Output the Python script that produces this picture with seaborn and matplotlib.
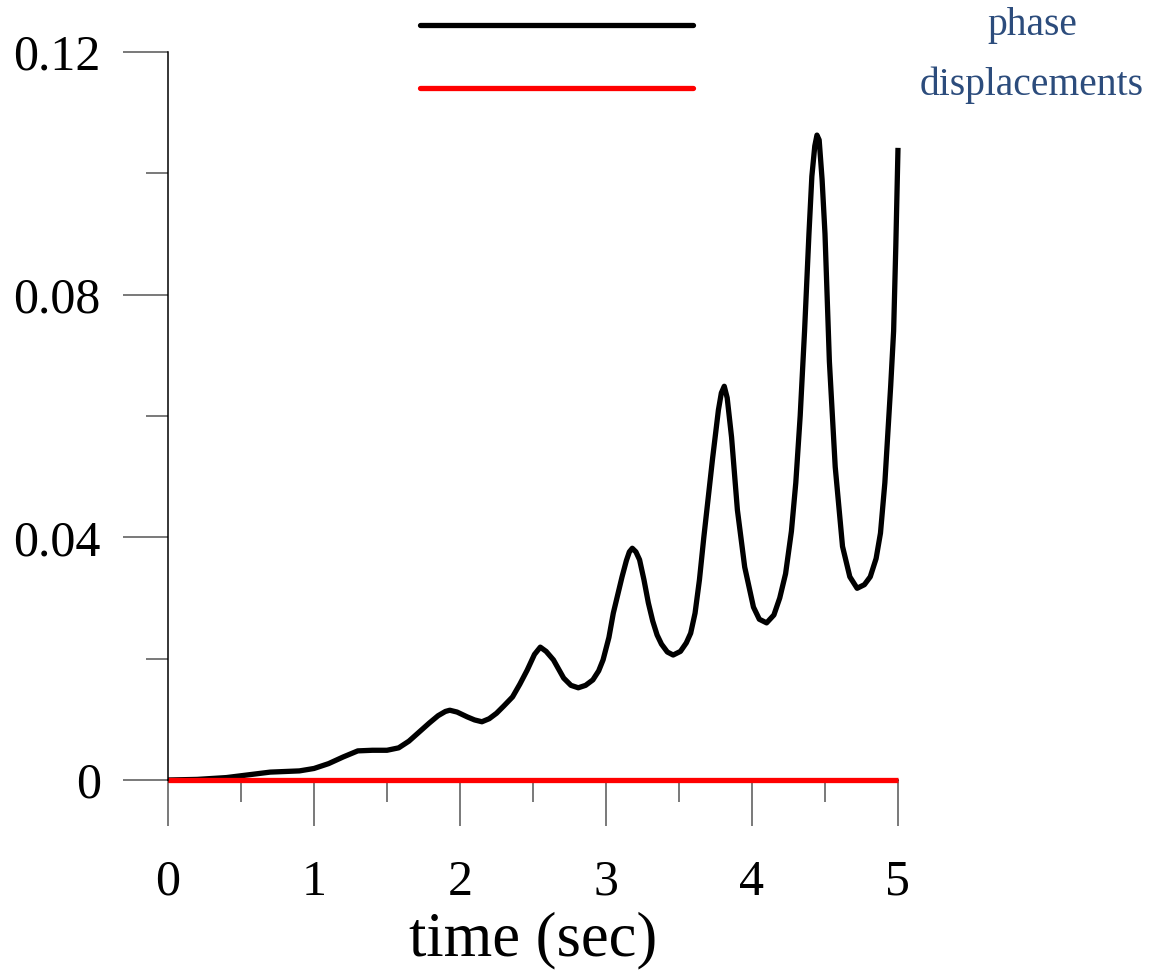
import numpy as np
import pandas as pd
import matplotlib
matplotlib.use("Agg")
import matplotlib.pyplot as plt
from matplotlib.lines import Line2D
from matplotlib.ticker import MultipleLocator
import seaborn as sns

# ---- data ----
time_s = [0.00, 0.20, 0.40, 0.50, 0.60, 0.70, 0.80, 0.90, 1.00, 1.10, 1.20, 1.30,
          1.40, 1.50, 1.58, 1.65, 1.72, 1.79, 1.85, 1.90, 1.93, 1.98, 2.05, 2.10, 2.15,
          2.20, 2.25, 2.30, 2.36, 2.41, 2.46, 2.51, 2.55, 2.59, 2.64, 2.71, 2.76,
          2.81, 2.86, 2.91, 2.95, 2.98, 3.02, 3.05, 3.08, 3.11, 3.14, 3.16, 3.18,
          3.205, 3.23, 3.26, 3.29, 3.32, 3.35, 3.38, 3.42, 3.46, 3.51, 3.55, 3.58,
          3.61, 3.64, 3.67, 3.70, 3.73, 3.77, 3.79, 3.81, 3.83, 3.86, 3.90, 3.95, 4.01,
          4.05, 4.10, 4.15, 4.19, 4.23, 4.27, 4.30, 4.33, 4.36, 4.39, 4.41, 4.43,
          4.445, 4.46, 4.48, 4.50, 4.53, 4.57, 4.62, 4.67, 4.72, 4.77, 4.81, 4.85,
          4.88, 4.91, 4.93, 4.95, 4.97, 4.985, 5.00]
phase = [0.0000, 0.0001, 0.0004, 0.0007, 0.0010, 0.0013, 0.0014, 0.0015, 0.0019, 0.0027, 0.0038, 0.0048,
         0.0049, 0.0049, 0.0053, 0.0064, 0.0079, 0.0094, 0.0106, 0.0113, 0.0115, 0.0112, 0.0104, 0.0099, 0.0096,
         0.0101, 0.0110, 0.0122, 0.0137, 0.0158, 0.0181, 0.0207, 0.0219, 0.0212, 0.0198, 0.0168, 0.0156,
         0.0152, 0.0156, 0.0165, 0.0180, 0.0198, 0.0235, 0.0275, 0.0305, 0.0335, 0.0362, 0.0376, 0.0382,
         0.0376, 0.0363, 0.0330, 0.0292, 0.0262, 0.0239, 0.0224, 0.0211, 0.0206, 0.0212, 0.0226, 0.0242,
         0.0275, 0.0330, 0.0400, 0.0465, 0.0530, 0.0610, 0.0638, 0.0649, 0.0630, 0.0565, 0.0445, 0.0351, 0.0285,
         0.0265, 0.0259, 0.0272, 0.0300, 0.0340, 0.0410, 0.0490, 0.0600, 0.0740, 0.0900, 0.0995, 0.1045,
         0.1063, 0.1055, 0.0990, 0.0900, 0.0690, 0.0516, 0.0385, 0.0335, 0.0316, 0.0322, 0.0335, 0.0365,
         0.0407, 0.0490, 0.0570, 0.0650, 0.0740, 0.0880, 0.1042]
disp_time = [0.0, 5.0]
displacements = [0.0, 0.0]

x_ticks = [0, 1, 2, 3, 4, 5]
y_ticks = [0, 0.04, 0.08, 0.12]
y_tick_labels = ["0", "0.04", "0.08", "0.12"]
legend_labels = ["phase", "displacements"]
x_label = "time (sec)"

# ---- figure ----
sns.set_style("ticks")
plt.rcParams["font.family"] = ["Liberation Serif", "DejaVu Serif"]

fig = plt.figure(figsize=(11.53, 9.71), dpi=100)
ax = fig.add_axes([168 / 1153, (971 - 780) / 971, (898 - 168) / 1153, (780 - 52) / 971])

df_phase = pd.DataFrame({"t": time_s, "v": phase})
df_disp = pd.DataFrame({"t": disp_time, "v": displacements})
sns.lineplot(data=df_phase, x="t", y="v", color="black", linewidth=3.8, ax=ax, zorder=2,
             solid_joinstyle="round", solid_capstyle="butt")
sns.lineplot(data=df_disp, x="t", y="v", color="#ff0000", linewidth=3.8, ax=ax, zorder=3,
             solid_capstyle="butt")
for ln in ax.lines:
    ln.set_clip_on(False)

ax.set_xlim(0, 5)
ax.set_ylim(0, 0.12)
ax.set_xticks(x_ticks)
ax.set_xticklabels([str(v) for v in x_ticks])
ax.set_yticks(y_ticks)
ax.set_yticklabels(y_tick_labels)
ax.xaxis.set_minor_locator(MultipleLocator(0.5))
ax.yaxis.set_minor_locator(MultipleLocator(0.02))

for s in ["top", "right"]:
    ax.spines[s].set_visible(False)
for s in ["left", "bottom"]:
    ax.spines[s].set_color("black")
    ax.spines[s].set_linewidth(1.1)
ax.spines["left"].set_zorder(5)

ax.tick_params(axis="y", which="major", direction="out", length=32.5, width=1.1,
               color="#555555", labelsize=36, pad=16, labelcolor="black")
ax.tick_params(axis="y", which="minor", direction="out", length=16, width=1.1, color="#555555")
ax.tick_params(axis="x", which="major", direction="out", length=33, width=1.1,
               color="#555555", labelsize=36, pad=24, labelcolor="black")
ax.tick_params(axis="x", which="minor", direction="out", length=16, width=1.1, color="#555555")

ax.set_xlabel(x_label, fontsize=45, labelpad=4, color="black")
ax.set_ylabel("")

# legend-like key at the top
fig.add_artist(Line2D([420 / 1153, 693 / 1153], [1 - 25 / 971, 1 - 25 / 971],
                      color="black", linewidth=3.8, transform=fig.transFigure))
fig.add_artist(Line2D([420 / 1153, 693 / 1153], [1 - 88 / 971, 1 - 88 / 971],
                      color="#ff0000", linewidth=3.8, transform=fig.transFigure))
fig.text(1032 / 1153, 1 - 25 / 971, legend_labels[0], ha="center", va="center",
         fontsize=28.5, color="#2c4c7c")
fig.text(1032 / 1153, 1 - 85 / 971, legend_labels[1], ha="center", va="center",
         fontsize=28.5, color="#2c4c7c")

fig.savefig("out.png", dpi=100)
